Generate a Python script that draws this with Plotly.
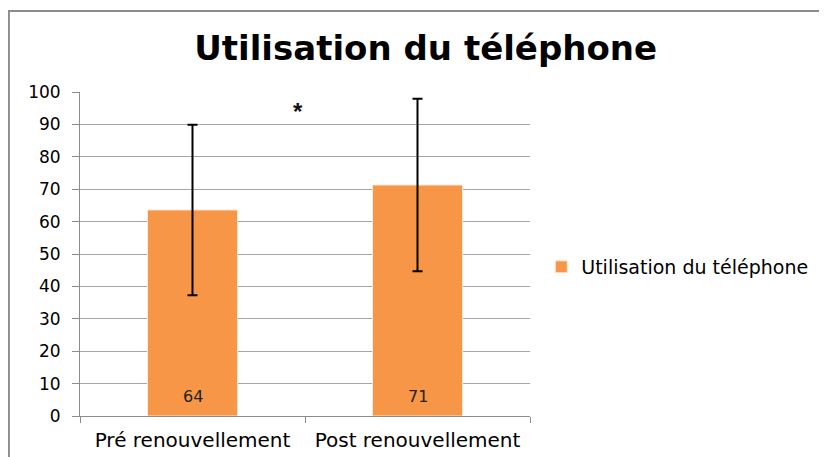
import plotly.graph_objects as go

categories = ["Pré renouvellement", "Post renouvellement"]
values = [63.6, 71.3]
errors = [26.3, 26.6]
value_labels = ["64", "71"]
series_name = "Utilisation du téléphone"
y_ticks = list(range(0, 101, 10))

fig = go.Figure()
fig.add_trace(go.Bar(
    x=categories, y=values, name=series_name,
    width=0.4,
    marker=dict(color="#F79646", line=dict(color="#FDE9D9", width=1)),
    error_y=dict(type="data", array=errors, visible=True,
                 color="black", thickness=2, width=5),
    showlegend=True,
))

# value labels near the base of each bar
for cat, lab in zip(categories, value_labels):
    fig.add_annotation(x=cat, y=0, xref="x", yref="y", text=lab, showarrow=False,
                       yanchor="bottom", yshift=8,
                       font=dict(family="DejaVu Sans", size=16, color="#222222"))

# significance marker between the two bars
fig.add_annotation(x=0.47, y=94, xref="x", yref="y", text="<b>*</b>",
                   showarrow=False, font=dict(family="Liberation Sans", size=24, color="#111111"))

# chart frame (gray border at left/top, runs off the picture)
fig.add_shape(type="rect", xref="paper", yref="paper",
              x0=-0.158, x1=1.8, y0=-0.3, y1=1.25,
              line=dict(color="#8C8C8C", width=2), layer="below")

fig.update_layout(
    width=827, height=457,
    margin=dict(l=72, r=305, t=84, b=49, autoexpand=False),
    paper_bgcolor="white", plot_bgcolor="white",
    title=dict(text="<b>Utilisation du téléphone</b>", x=0.505, xanchor="center",
               y=0.913, yanchor="middle",
               font=dict(family="DejaVu Sans", size=34, color="black")),
    legend=dict(x=1.025, xanchor="left", y=0.46, yanchor="middle",
                font=dict(family="DejaVu Sans", size=19, color="black"),
                itemwidth=30, bgcolor="rgba(0,0,0,0)"),
    bargap=0.6,
)
fig.update_xaxes(
    type="category", range=[-0.5, 1.5],
    showline=True, linecolor="#8C8C8C", linewidth=1,
    ticks="outside", tickson="boundaries", ticklen=6, tickcolor="#8C8C8C",
    showgrid=False, ticklabelstandoff=6,
    tickfont=dict(family="DejaVu Sans", size=20, color="black"),
)
fig.update_yaxes(
    range=[0, 100], tickvals=y_ticks,
    showline=True, linecolor="#8C8C8C", linewidth=1,
    ticks="outside", ticklen=7, tickcolor="#8C8C8C",
    showgrid=True, gridcolor="#A6A6A6", gridwidth=1,
    zeroline=False, ticklabelstandoff=8,
    tickfont=dict(family="DejaVu Sans", size=17, color="black"),
)

fig.write_html("out.html")
